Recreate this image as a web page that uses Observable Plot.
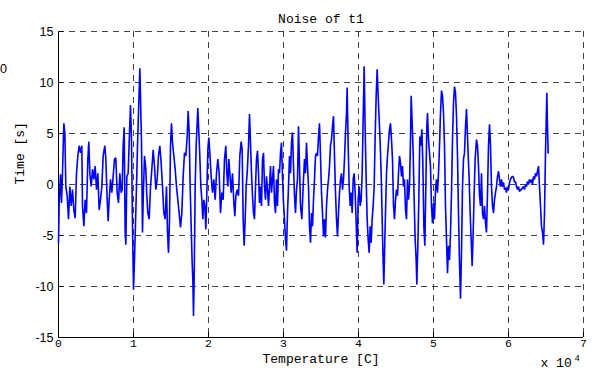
<!DOCTYPE html>
<html>
<head>
<meta charset="utf-8">
<script src="https://cdn.jsdelivr.net/npm/d3@7"></script>
<script src="https://cdn.jsdelivr.net/npm/@observablehq/plot@0.6"></script>
<style>
  html, body { margin: 0; padding: 0; background: #fff; }
  #chart svg { display: block; }
</style>
</head>
<body>
<div id="chart"></div>
<script>
// Recorded noise trace of t1: sample position and amplitude
const temperature = [
  0, 89, 267, 400, 533, 711, 844, 978, 1156, 1333, 1511, 1689, 1867, 2044, 2222, 2400, 2578, 2756, 2933, 3111,
  3200, 3378, 3556, 3733, 3911, 4044, 4178, 4356, 4533, 4711, 4889, 5067, 5244, 5422, 5600, 5778, 5956, 6178, 6311, 6489,
  6622, 6756, 6933, 7111, 7289, 7467, 7644, 7822, 8000, 8178, 8356, 8489, 8622, 8756, 8889, 8978, 9111, 9289, 9467, 9600,
  9733, 9867, 10000, 10133, 10267, 10400, 10533, 10667, 10850,
  11067, 11200, 11289, 11467, 11644, 11778, 11911, 12089, 12267, 12444, 12622, 12800, 12978, 13156, 13333, 13511, 13689, 13867, 14044, 14222,
  14400, 14533, 14667, 14800, 14933, 15067, 15200, 15378, 15556, 15733, 15911, 16089, 16267, 16444, 16622, 16800, 16978, 17156, 17289, 17422,
  17556, 17689, 17822, 17911, 18000, 18089, 18222, 18356, 18489, 18578, 18711, 18844, 18978, 19111, 19244, 19378, 19511, 19644, 19778, 19911,
  20044, 20178, 20356, 20533, 20711, 20889, 21067, 21244, 21422,
  21600, 21778, 21956, 22133, 22311, 22444, 22578, 22711, 22844, 23022, 23200, 23378, 23511, 23644, 23822, 24000, 24178, 24356, 24489, 24622,
  24756, 24889, 25022, 25156, 25333, 25467, 25600, 25733, 25867, 26000, 26133, 26267, 26400, 26533, 26667, 26800, 26933, 27067, 27200, 27333,
  27467, 27600, 27733, 27867, 28000, 28133, 28267, 28400, 28533, 28667, 28800, 28933, 29067, 29200, 29333, 29467, 29600, 29733, 29867, 30000,
  30133, 30267, 30400, 30533, 30667, 30800, 30933, 31067, 31200, 31333, 31467, 31600, 31733, 31867, 32000, 32133, 32267, 32444, 32622,
  32800, 32933, 33067, 33200, 33333, 33467, 33600, 33733, 33867, 34000, 34133, 34267, 34400, 34533, 34667, 34800, 34933, 35067, 35200, 35333,
  35467, 35600, 35733, 35867, 36000, 36133, 36267, 36400, 36533, 36667, 36800, 36933, 37067, 37200, 37333, 37467, 37600, 37733, 37867, 38000,
  38133, 38267, 38400, 38489, 38622, 38756, 38889, 39022, 39156, 39289, 39422, 39556, 39689, 39822, 39956, 40089, 40222, 40356, 40489, 40622,
  40756, 40889, 41022, 41156, 41289, 41422, 41556, 41689, 41822, 41956, 42089, 42222, 42356, 42489, 42622, 42756, 42889, 43022, 43156, 43289,
  43378, 43511,
  43733, 43867, 44000, 44133, 44267, 44400, 44533, 44667, 44800, 44933, 45067, 45200, 45333, 45467, 45600, 45733, 45867, 46000, 46133, 46267,
  46400, 46533, 46667, 46800, 46933, 47022, 47156, 47289, 47422, 47556, 47689, 47778, 47911, 48044, 48178, 48311, 48444, 48578, 48711, 48844,
  48978, 49111, 49200, 49333, 49467, 49600, 49733, 49867, 50000, 50133, 50267, 50400, 50533, 50667, 50800, 50933, 51067, 51200, 51333, 51467,
  51600, 51733, 51867, 52000, 52133, 52267, 52400, 52533, 52667, 52800, 52933, 53067, 53200, 53333, 53467, 53600, 53733, 53867, 54000, 54133,
  54267,
  54400, 54578, 54756, 54889, 55022, 55156, 55289, 55422, 55556, 55733, 55867, 56000, 56133, 56267, 56400, 56533, 56667, 56800, 56933, 57067,
  57200, 57333, 57467, 57600, 57733, 57867, 58000, 58133, 58267, 58400, 58533, 58667, 58800, 58933, 59067, 59200, 59333, 59467, 59600, 59733,
  59867, 60000, 60133, 60267, 60400, 60533, 60667, 60800, 60933, 61067, 61200, 61333, 61467, 61600, 61733, 61867, 62000, 62133, 62267, 62400,
  62533, 62667, 62800, 62933, 63067, 63200, 63333, 63467, 63600, 63733, 63867, 64000, 64133, 64267, 64400, 64533, 64667, 64800, 64933, 65022,
  65111, 65200, 65289
];

const noise = [
  -5.7, -1.8, 1.0, -1.8, 1.1, 6.0, 5.1, -0.2, -1.1, -3.4, -0.2, -2.1, -0.5, -2.5, -3.3, 1.1, 2.8, 3.8, 3.1, 3.8,
  -2.1, -4.1, -1.5, -2.8, 2.5, 4.2, 1.1, -0.2, 1.5, 0.5, 1.8, -0.5, 1.1, -2.5, -1.5, -0.2, 2.8, 3.8, 2.5, -1.5,
  -3.6, -1.5, 0.5, -0.8, 0.8, 2.5, 2.6, -0.8, -1.8, 1.1, -0.8, -0.5, 3.8, 5.6, -4.7, -5.9, 0.8, 1.1, 5.1, 7.8,
  4.4, -4.1, -10.3, -7.4, -3.8, -0.2, 3.8, 7.0, 11.4,
  4.1, -4.7, -1.5, 2.8, 1.5, -1.1, -2.8, -3.4, -0.2, 1.5, 3.4, 1.8, -0.5, 0.5, 2.8, 3.8, 2.1, -0.2, -2.8, -3.4,
  -0.2, -4.7, -6.7, -3.4, 3.8, 6.0, 4.1, 2.8, 1.5, -0.2, -1.5, -2.8, -4.2, -2.8, 0.8, 3.1, 2.8, 4.7, 7.2, 5.1,
  -0.2, -4.1, -7.7, -9.3, -12.9, -9.3, -0.2, 3.8, 6.0, 7.5, 5.1, 2.8, -0.2, -1.5, -3.4, -1.5, -2.1, -4.4, -0.8, 3.4,
  4.6, 3.1, 0.8, -0.8, 0.5, -1.5, 1.1, 2.5, 1.1,
  -2.8, -0.8, -1.5, 2.5, 3.8, 1.1, -0.2, 2.5, 1.1, -0.8, 1.1, -1.8, -3.1, -1.1, -0.5, -1.1, 2.8, 4.2, 3.4, -3.4,
  -6.0, -3.4, -0.2, 1.1, 3.8, 6.9, 4.1, 1.1, -1.1, -2.8, -3.4, -0.2, 2.5, 3.3, 1.1, -1.8, -0.2, -2.1, 2.5, 3.1,
  -0.2, -1.5, 0.8, -0.5, -2.1, -0.2, 1.8, -0.8, 0.5, 1.8, -1.8, -2.8, 0.5, -2.1, 1.5, 1.1, 3.1, 4.1, 0.8, -1.8,
  -3.4, -5.4, -6.5, -2.8, -0.2, 2.8, 1.1, 4.1, 5.1, 1.8, -1.1, -2.8, -0.5, 0.5, 5.7, 1.8, -2.1, -3.4, -0.2,
  2.5, 1.1, 4.1, 1.8, -0.2, -4.1, -5.7, -2.8, -4.1, -1.5, 0.5, 2.8, 3.1, 2.8, 4.7, 6.0, 2.8, -0.8, -2.8, -5.1,
  -3.4, -5.2, -2.1, -0.5, 0.5, 1.8, 3.8, 4.4, 5.7, 6.7, 2.8, -0.8, -3.4, -5.1, -2.8, -0.8, 0.5, 1.1, -0.5, 0.5,
  2.5, 5.1, 7.0, 9.5, 3.8, -0.2, -2.1, -0.8, -2.8, 0.5, 1.1, -0.8, -3.8, -6.7, -1.5, -0.2, -2.1, -1.5, 1.1, 6.4,
  11.6, 5.4, 0.5, -3.4, -5.4, -6.7, -4.1, -5.7, -3.4, -2.1, -0.2, 4.7, 8.7, 11.3, 8.7, 6.4, 4.1, 1.1, -3.4, -7.7,
  -9.8, -5.4,
  1.1, 2.8, 4.1, 5.4, 6.0, 4.4, 2.5, -2.1, -3.4, -1.5, -0.5, -1.1, 1.1, 2.8, 2.1, 0.8, 1.8, -0.2, 0.5, -2.5,
  -3.4, 0.5, -1.5, -0.2, 4.4, 8.7, 6.0, 3.1, -1.5, -5.4, -7.4, -9.8, -6.0, -1.5, 4.7, 3.8, 5.4, 2.1, -4.1, -6.0,
  -0.2, 5.7, 7.0, 4.4, 3.1, 1.8, -2.1, -3.8, -1.8, -3.4, -0.5, 0.5, -0.8, 1.1, 3.8, 7.0, 9.2, 8.7, 7.0, 3.8,
  -2.1, -5.4, -8.7, -6.0, -7.4, -4.7, -0.8, 4.4, 8.0, 9.6, 9.0, 6.7, 2.8, -2.8, -7.7, -11.2, -6.7, -0.2, 2.5, 3.1,
  5.7,
  7.4, 3.8, 0.5, -2.8, -5.4, -8.0, -4.7, -0.8, 2.5, 4.4, 3.8, 1.8, -1.1, -2.1, 1.1, -2.8, -3.4, -2.1, -3.8, -4.7,
  -0.8, 3.8, 5.9, 3.8, -0.2, -2.1, -2.8, -1.5, -0.8, -0.2, 0.8, 1.3, 0.5, -0.2, 0.5, -0.2, 0.2, -0.5, -0.3, -0.8,
  -0.2, -0.5, 0.2, 0.5, 0.7, 0.8, 0.7, 0.2, 0.3, -0.2, -0.5, -0.2, -0.7, -0.5, -0.5, -0.3, -0.2, -0.5, 0.0, -0.2,
  0.3, 0.0, 0.5, 0.2, 0.5, 0.0, 0.8, 0.5, 1.1, 0.8, 1.3, 1.8, -0.2, -2.1, -4.1, -4.7, -5.9, -2.8, 3.1, 6.0,
  9.0, 5.7, 3.1
];

const xTicks = [0, 10000, 20000, 30000, 40000, 50000, 60000, 70000];
const yTicks = [-15, -10, -5, 0, 5, 10, 15];

const rows = temperature.map((t, i) => ({t, v: noise[i]}));

const mono = "'Courier New', Courier, 'Nimbus Mono PS', 'Liberation Mono', monospace";
const sans = "Helvetica, Arial, 'Liberation Sans', sans-serif";

const chart = Plot.plot({
  width: 594,
  height: 372,
  marginLeft: 58,
  marginRight: 11,
  marginTop: 31,
  marginBottom: 35,
  style: {background: "#fff", color: "#000", overflow: "visible"},
  x: {domain: [0, 70000]},
  y: {domain: [-15, 15]},
  marks: [
    // dashed grid, including the top and right edges
    Plot.ruleY(yTicks, {y: d => d, stroke: "#222", strokeOpacity: 0.85, strokeWidth: 1, strokeDasharray: "6,5"}),
    Plot.ruleX(xTicks, {x: d => d, stroke: "#222", strokeOpacity: 0.85, strokeWidth: 1, strokeDasharray: "6,5"}),
    // solid left and bottom axes with inward ticks
    Plot.ruleX([0], {stroke: "#000", strokeWidth: 1}),
    Plot.ruleY([-15], {stroke: "#000", strokeWidth: 1}),
    Plot.ruleX(xTicks, {x: d => d, y1: -15, y2: -14.5, stroke: "#000"}),
    Plot.ruleY(yTicks, {y: d => d, x1: 0, x2: 670, stroke: "#000"}),
    Plot.axisY({ticks: yTicks, tickSize: 0, tickPadding: 5, fontSize: 12.5, fontFamily: sans, tickFormat: d => String(d), label: null}),
    Plot.axisX({ticks: xTicks, tickSize: 0, tickPadding: 1, fontSize: 11.5, fontFamily: mono, tickFormat: d => String(d / 10000), label: null}),
    // signal
    Plot.line(rows, {x: "t", y: "v", stroke: "#0000ff", strokeWidth: 1.6, strokeLinejoin: "miter"}),
    // titles and labels
    Plot.text(["Noise of t1"], {frameAnchor: "top", dy: -18, fontSize: 13, fontFamily: mono}),
    Plot.text(["Time [s]"], {frameAnchor: "left", dx: -39, rotate: -90, fontSize: 13, fontFamily: mono}),
    Plot.text(["Temperature [C]"], {frameAnchor: "bottom", dy: 25, fontSize: 13, fontFamily: mono}),
    Plot.text(["x 10"], {frameAnchor: "bottom-right", textAnchor: "start", dx: -43, dy: 29, fontSize: 13, fontFamily: mono}),
    Plot.text(["4"], {frameAnchor: "bottom-right", textAnchor: "start", dx: -9, dy: 23, fontSize: 9, fontFamily: mono}),
    Plot.text(["0"], {frameAnchor: "top-left", dx: -58.5, dy: 33, fontSize: 12.5, fontFamily: sans})
  ]
});

document.getElementById("chart").appendChild(chart);
</script>
</body>
</html>
